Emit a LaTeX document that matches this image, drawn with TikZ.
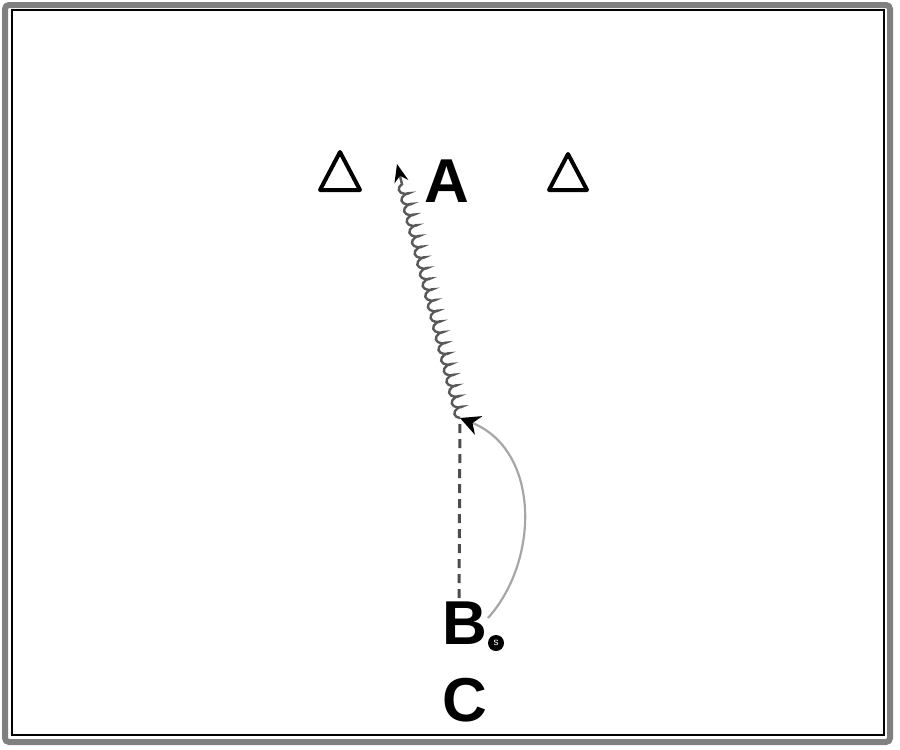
\documentclass[tikz,border=0pt]{standalone}
\usepackage{fontspec}
\setmainfont{Liberation Sans}
\usetikzlibrary{decorations.pathmorphing,arrows.meta}
\begin{document}
\begin{tikzpicture}[x=1pt,y=-1pt,
  lab/.style={font=\fontsize{62}{62}\selectfont\bfseries, inner sep=0pt},
  cone/.style={draw=black, line width=4pt, line join=round},
  run/.style={draw=gray!60!black, line width=3pt, dash pattern=on 9pt off 6pt},
  pass/.style={draw=gray!70, line width=2.2pt, -{Stealth[length=20pt,width=20pt,black]}},
  dribble/.style={draw=gray!70!black, line width=2.4pt, decorate,
     decoration={coil, amplitude=4.5pt, segment length=11pt, post length=16pt},
     -{Stealth[length=18pt,width=14pt,black]}}]
\useasboundingbox (0,0) rectangle (900,750);
% frame
\draw[gray, line width=6pt, rounded corners=4pt] (5,5) rectangle (890,742);
\draw[black, line width=1.2pt] (12,10) rectangle (884,735);
% cones
\draw[cone] (340,152) -- (360,190) -- (320,190) -- cycle;
\draw[cone] (568,154) -- (587,190) -- (549,190) -- cycle;
% labels
\node[lab] (A) at (447,181) {A};
\node[lab] (B) at (465,623) {B};
\node[lab] (C) at (465,700) {C};
\node[circle, fill=black, minimum size=16pt, inner sep=0pt, text=white,
  font=\fontsize{10}{10}\selectfont] (ball) at (496,643) {s};
% points
\coordinate (P) at (460,418);
\coordinate (T) at (397,164);
\coordinate (Bt) at (459,598);
% run (dashed)
\draw[run] (Bt) -- (P);
% pass (curved)
\draw[pass] (488,618) .. controls (540,560) and (540,450) .. (P);
% dribble
\draw[dribble] (P) -- (T);
\end{tikzpicture}
\end{document}
